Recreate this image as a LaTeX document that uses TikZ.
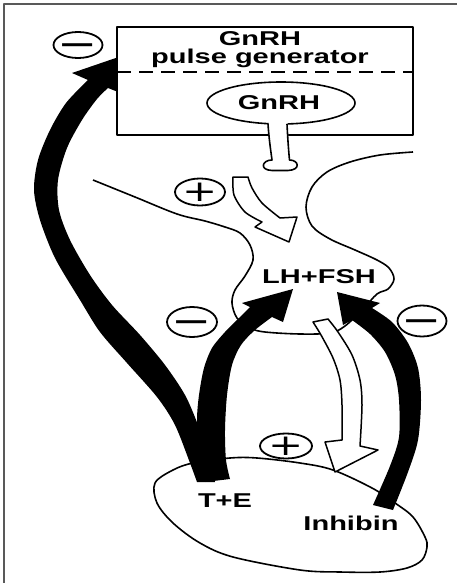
\documentclass[tikz,border=0pt]{standalone}
\usepackage{fontspec}
\setmainfont{Liberation Sans}[FakeStretch=1.45]
\newfontfamily\signfont{DejaVu Sans}
\usetikzlibrary{shapes.geometric}
\newcommand\minussign{\scalebox{1}[0.75]{\signfont\fontsize{48}{48}\selectfont −}}
\newcommand\plussign{\scalebox{1}[0.7]{\signfont\fontsize{42}{42}\selectfont +}}
\begin{document}
\begin{tikzpicture}[x=1pt,y=-1pt,line join=round,
  outl/.style={line width=1.6pt},
  lbl/.style={anchor=base,inner sep=0pt,font=\fontsize{20}{22}\selectfont\bfseries},
  sgn/.style={ellipse,draw,line width=1.8pt,inner sep=0pt},
  sgntxt/.style={anchor=base,inner sep=0pt},
  blk/.style={fill=black},
  wht/.style={fill=white,draw=black,line width=1.5pt}]
\useasboundingbox (0,0) rectangle (459,583);
\fill[white] (0,0) rectangle (459,583);
% frame
\draw[black!65,line width=1.5pt] (4,583) -- (4,4) -- (457,4);
% hypothalamus / pituitary outline
\draw[outl] plot[smooth,tension=0.55] coordinates {(93,180) (135,197) (177,214) (205,221) (225,227) (240,233) (250,245) (253,260) (245,276) (235,290) (232,303) (237,318) (250,328) (265,332) (300,334) (330,333) (345,326) (363,309) (377,294) (388,289) (394,279) (389,268) (377,260) (355,250) (330,239) (312,226) (306,207) (312,187) (327,172) (350,162) (380,155) (413,152)};
% gonad
\coordinate (gonad) at (290,515);
\draw[outl] plot[smooth cycle,tension=0.55] coordinates {(155,483) (173,470) (193,463) (230,458) (257,458) (300,463) (333,470) (372,488) (395,503) (413,517) (425,537) (427,547) (422,560) (407,568) (380,572) (340,572) (300,570) (233,557) (200,543) (173,523) (157,503)};
% white arrows
\filldraw[wht] plot[smooth] coordinates {(233,177) (234,195) (245,212) (262,222)} -- (255,227) -- (289,242) -- (297,217) -- plot[smooth] coordinates {(280,218) (262,203) (252,188) (248,177)} -- cycle;
\filldraw[wht] plot[smooth] coordinates {(313,322) (321,335) (333,358) (340,380) (342,405) (342,440)} -- (325,442) -- (335,472) -- (378,450) -- plot[smooth] coordinates {(360,446) (362,405) (360,380) (352,355) (338,332) (328,319)} -- cycle;
% black arrow A (gonad -> pulse generator)
\fill[blk] plot[smooth] coordinates {(197,482) (190,463) (175,425) (157,397) (127,363) (100,332) (80,300) (55,258) (40,220) (34,190) (38,160) (50,130) (66,103) (88,80)} -- (72,73) -- (145,48) -- (128,96) -- plot[smooth] coordinates {(108,88) (97,99) (82,120) (67,148) (58,180) (59,210) (70,240) (90,275) (112,305) (140,335) (165,365) (185,395) (198,425) (208,455) (215,482)} -- cycle;
% black arrow B (T+E -> LH+FSH)
\fill[blk] plot[smooth] coordinates {(205,482) (199,450) (197,420) (199,395) (204,368) (212,348) (225,332) (238,319) (250,307)} -- (242,303) -- (293,289) -- (283,322) -- plot[smooth] coordinates {(272,317) (255,330) (241,345) (232,365) (227,395) (225,430) (226,460) (230,479)} -- cycle;
% black arrow C (Inhibin -> LH+FSH)
\fill[blk] (337,292) -- (343,325) -- plot[smooth] coordinates {(352,320) (370,334) (385,352) (395,375) (399,400) (399,437) (390,466) (373,505)} -- plot[smooth] coordinates {(393,510) (408,472) (418,440) (421,400) (418,368) (408,343) (392,322) (372,308)} -- (380,303) -- cycle;
% pulse generator box
\node[draw,line width=2pt,fill=white,minimum width=296pt,minimum height=108pt,inner sep=0pt] (gen) at (265,81) {};
\draw[line width=1.5pt,dash pattern=on 14pt off 8pt] (117,72) -- (413,72);
% GnRH neuron
\node[ellipse,draw,outl,fill=white,minimum width=148pt,minimum height=42pt] (gel) at (281,103) {};
\fill[white] (268.5,118) -- (287.5,118) -- (289,160) -- (272,160) -- cycle;
\draw[outl,fill=white] (268,123.7) .. controls (269,140) and (271,152) .. (272,160) .. controls (262,160) and (259,170) .. (272,170.5) -- (288,170.5) .. controls (301,170) and (299,160) .. (289.5,160) .. controls (288.5,150) and (287.5,135) .. (287,123.9);
% labels
\node[lbl] (t1) at (260,45.5) {GnRH};
\node[lbl] (t2) at (260,64) {pulse generator};
\node[lbl] (t3) at (279,110) {GnRH};
\node[lbl] (lh) at (319,283) {LH+FSH};
\node[lbl] (te) at (225,507) {T+E};
\node[lbl] (inh) at (351,530) {Inhibin};
% signs
\node[sgn,minimum width=49pt,minimum height=26pt] (m1) at (78,45) {};
\node[sgntxt] at (78,56.2) {\minussign};
\node[sgn,minimum width=50pt,minimum height=27pt] (p1) at (200,192) {};
\node[sgntxt] at (200,201.1) {\plussign};
\node[sgn,minimum width=50pt,minimum height=30pt] (m2) at (192,322) {};
\node[sgntxt] at (192,333.2) {\minussign};
\node[sgn,minimum width=49pt,minimum height=31pt] (m3) at (422,321) {};
\node[sgntxt] at (422,332.2) {\minussign};
\node[sgn,minimum width=52pt,minimum height=25pt] (p2) at (286,446) {};
\node[sgntxt] at (286,455.1) {\plussign};
\end{tikzpicture}
\end{document}
